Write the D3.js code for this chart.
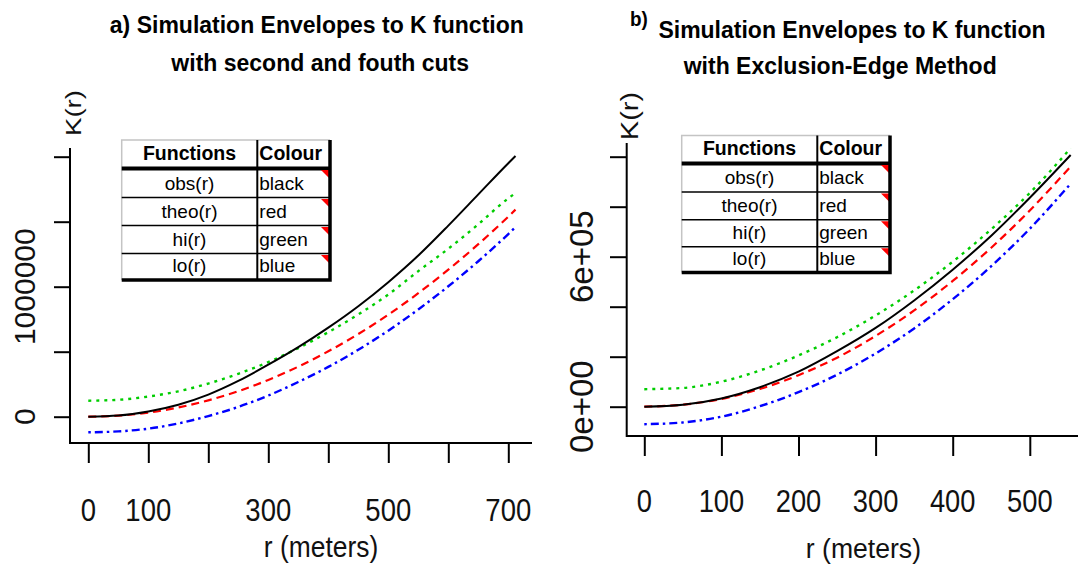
<!DOCTYPE html>
<html><head><meta charset="utf-8">
<script src="https://cdn.jsdelivr.net/npm/d3@7"></script>
<style>body{margin:0;background:#fff}svg{display:block}</style>
</head><body>
<svg id="c" width="1078" height="565"></svg>
<script>
// ---------- data ----------
const rA = [0, 50, 100, 150, 200, 250, 300, 350, 400, 450, 500, 550, 600, 650, 700, 712];
const obsA = [0, 9000, 40000, 92000, 170000, 275000, 400000, 535000, 685000, 850000, 1035000, 1240000, 1470000, 1710000, 1950000, 2005000];
const theoA = [0, 8000, 31000, 71000, 126000, 196000, 283000, 385000, 503000, 636000, 785000, 950000, 1131000, 1327000, 1539000, 1593000];
const hiA = [123000, 130000, 155000, 195000, 255000, 330000, 420000, 528000, 650000, 787000, 940000, 1120000, 1292000, 1480000, 1680000, 1720000];
const loA = [-120000, -113000, -92000, -52000, 5000, 75000, 163000, 267000, 383000, 515000, 662000, 825000, 1003000, 1196000, 1405000, 1458000];

const rB = [0, 50, 100, 150, 200, 250, 300, 350, 400, 450, 500, 553];
const obsB = [0, 8000, 33000, 78000, 140000, 222000, 315000, 425000, 548000, 684000, 836000, 1007000];
const theoB = [0, 8000, 31000, 71000, 126000, 196000, 283000, 385000, 503000, 636000, 785000, 961000];
const hiB = [70000, 75000, 100000, 145000, 205000, 278000, 365000, 465000, 580000, 710000, 855000, 1034000];
const loB = [-70000, -63000, -40000, 2000, 58000, 128000, 213000, 313000, 430000, 562000, 712000, 892000];

const xTicksA = [0, 100, 200, 300, 400, 500, 600, 700];
const xLabelsA = [0, 100, 300, 500, 700];
const yTicksA = [0, 500000, 1000000, 1500000, 2000000];
const yLabelsA = [[0, "0"], [1000000, "1000000"]];

const xTicksB = [0, 100, 200, 300, 400, 500];
const xLabelsB = [0, 100, 200, 300, 400, 500];
const yTicksB = [0, 200000, 400000, 600000, 800000, 1000000];
const yLabelsB = [[0, "0e+00"], [600000, "6e+05"]];

const legendFunctions = ["obs(r)", "theo(r)", "hi(r)", "lo(r)"];
const legendColours = ["black", "red", "green", "blue"];
const titleA = ["a) Simulation Envelopes to K function", "with second and fouth cuts"];
const titleB = ["b)", "Simulation Envelopes to K function", "with Exclusion-Edge Method"];

// ---------- drawing ----------
const FONT = "'Liberation Sans', Arial, sans-serif";
const svg = d3.select("#c");

function txt(g, s, x, y, o) {
  o = o || {};
  return g.append("text")
    .attr("transform", `translate(${x},${y}) rotate(${o.rot || 0}) scale(${o.sx || 1},${o.sy || 1})`)
    .attr("font-family", FONT)
    .attr("font-size", o.size || 16)
    .attr("font-weight", o.weight || "normal")
    .attr("text-anchor", o.anchor || "middle")
    .attr("fill", o.fill || "#000")
    .text(s);
}

const styles = {
  obs: {c: "#000000", dash: null, w: 2},
  theo: {c: "#ff0000", dash: "8,5", w: 2.2},
  hi: {c: "#00cd00", dash: "3,5", w: 2.4},
  lo: {c: "#0000ff", dash: "2.5,4,8,4", w: 2.4}
};

function panel(cfg) {
  const g = svg.append("g");
  const x = d3.scaleLinear().domain(cfg.xDom).range(cfg.xRange);
  const y = d3.scaleLinear().domain(cfg.yDom).range(cfg.yRange);

  const series = [["hi", cfg.hi], ["lo", cfg.lo], ["theo", cfg.theo], ["obs", cfg.obs]];
  series.forEach(([k, vals]) => {
    const st = styles[k];
    const line = d3.line().x((d, i) => x(cfg.r[i])).y(d => y(d)).curve(d3.curveMonotoneX);
    g.append("path").attr("d", line(vals)).attr("fill", "none")
      .attr("stroke", st.c).attr("stroke-width", st.w)
      .attr("stroke-dasharray", st.dash);
  });

  g.append("path")
    .attr("d", `M${cfg.axX},${cfg.frameTop}V${cfg.axY}H${cfg.frameRight}`)
    .attr("fill", "none").attr("stroke", "#000").attr("stroke-width", 2);

  const ax = g.append("g").attr("transform", `translate(0,${cfg.axY})`)
    .call(d3.axisBottom(x).tickValues(cfg.xTicks).tickSize(cfg.xTickLen).tickFormat(""));
  const ay = g.append("g").attr("transform", `translate(${cfg.axX},0)`)
    .call(d3.axisLeft(y).tickValues(cfg.yTicks).tickSize(cfg.yTickLen).tickFormat(""));
  [ax, ay].forEach(a => {
    a.select(".domain").remove();
    a.selectAll("line").attr("stroke", "#000").attr("stroke-width", 2);
  });

  cfg.xLabels.forEach(v => txt(g, String(v), x(v), cfg.xLabY, {size: cfg.xLabSize, sx: cfg.xLabSx, fill: "#111"}));
  cfg.yLabels.forEach(([v, s]) => txt(g, s, cfg.yLabX, y(v), {size: cfg.yLabSize, rot: -90, fill: "#111"}));

  txt(g, "r (meters)", cfg.xTitle[0], cfg.xTitle[1], {size: cfg.xTitle[2], sx: cfg.xTitle[3], fill: "#111"});
  txt(g, "K(r)", cfg.yTitle[0], cfg.yTitle[1], {size: cfg.yTitle[2], sx: cfg.yTitle[3], rot: -90, fill: "#111"});

  const T = cfg.table;
  const tg = g.append("g");
  const yb = T.rows[T.rows.length - 1];
  tg.append("rect").attr("x", T.x0).attr("y", T.top).attr("width", T.x1 - T.x0).attr("height", yb - T.top)
    .attr("fill", "#fff");
  tg.append("path").attr("d", `M${T.x0},${yb}V${T.top}H${T.x1}`)
    .attr("fill", "none").attr("stroke", "#c4c4c4").attr("stroke-width", 1.5);
  T.rows.slice(1, -1).forEach(yy => tg.append("line").attr("x1", T.x0).attr("x2", T.x1).attr("y1", yy).attr("y2", yy)
    .attr("stroke", "#000").attr("stroke-width", 1.6));
  tg.append("line").attr("x1", T.x0).attr("x2", T.x1).attr("y1", T.rows[0]).attr("y2", T.rows[0])
    .attr("stroke", "#000").attr("stroke-width", 4);
  tg.append("line").attr("x1", T.xd).attr("x2", T.xd).attr("y1", T.top).attr("y2", yb)
    .attr("stroke", "#000").attr("stroke-width", 2);
  legendColours.forEach((c, i) => {
    const yt = T.rows[i] + 1.5, xr = T.x1 - 1;
    tg.append("path").attr("d", `M${xr - 8},${yt}L${xr},${yt}L${xr},${yt + 8}Z`).attr("fill", "#ff0000");
  });
  tg.append("path").attr("d", `M${T.x1},${T.top}V${yb}H${T.x0}`)
    .attr("fill", "none").attr("stroke", "#000").attr("stroke-width", 3.5);
  txt(tg, "Functions", (T.x0 + T.xd) / 2, T.top + 19.5, {size: 19.5, weight: "bold"});
  txt(tg, "Colour", T.xd + 2, T.top + 19.5, {size: 19.5, weight: "bold", anchor: "start"});
  legendFunctions.forEach((f, i) => {
    const yy = T.rows[i + 1] - 8;
    txt(tg, f, (T.x0 + T.xd) / 2, yy, {size: 19});
    txt(tg, legendColours[i], T.xd + 2, yy, {size: 19, anchor: "start"});
  });
  return g;
}

panel({
  r: rA, obs: obsA, theo: theoA, hi: hiA, lo: loA,
  xDom: [0, 700], xRange: [88.3, 508.3], yDom: [0, 2000000], yRange: [416.7, 156.7],
  axX: 70, axY: 443, frameTop: 148, frameRight: 532,
  xTicks: xTicksA, yTicks: yTicksA, xTickLen: 20, yTickLen: 16,
  xLabels: xLabelsA, xLabY: 521, xLabSize: 32, xLabSx: 0.86,
  yLabels: yLabelsA, yLabX: 35, yLabSize: 30,
  xTitle: [321, 557, 30, 0.88], yTitle: [80.5, 113, 21.3, 1.3],
  table: {x0: 121.7, x1: 330, xd: 257.3, top: 140, rows: [168.5, 197.5, 225.5, 253.5, 280]}
});

panel({
  r: rB, obs: obsB, theo: theoB, hi: hiB, lo: loB,
  xDom: [0, 500], xRange: [644.3, 1029.8], yDom: [0, 1000000], yRange: [406.7, 156.7],
  axX: 626.7, axY: 436, frameTop: 143, frameRight: 1078,
  xTicks: xTicksB, yTicks: yTicksB, xTickLen: 20, yTickLen: 16.7,
  xLabels: xLabelsB, xLabY: 512, xLabSize: 31, xLabSx: 0.88,
  yLabels: yLabelsB, yLabX: 593.3, yLabSize: 33,
  xTitle: [863.4, 558, 28, 0.95], yTitle: [638, 116, 24.8, 1.17],
  table: {x0: 681.7, x1: 890, xd: 817.3, top: 135.5, rows: [163.5, 192, 219.7, 246.7, 272.5]}
});

txt(svg, titleA[0], 316.8, 32.5, {size: 23, weight: "bold", sy: 1.05});
txt(svg, titleA[1], 320.2, 70.6, {size: 23, weight: "bold", sy: 1.05});
txt(svg, titleB[0], 630, 26, {size: 21, weight: "bold", anchor: "start", sx: 0.9});
txt(svg, titleB[1], 658.4, 37.7, {size: 23, weight: "bold", anchor: "start", sy: 1.05});
txt(svg, titleB[2], 840.2, 73.8, {size: 23, weight: "bold", sy: 1.05});
</script>
</body></html>
